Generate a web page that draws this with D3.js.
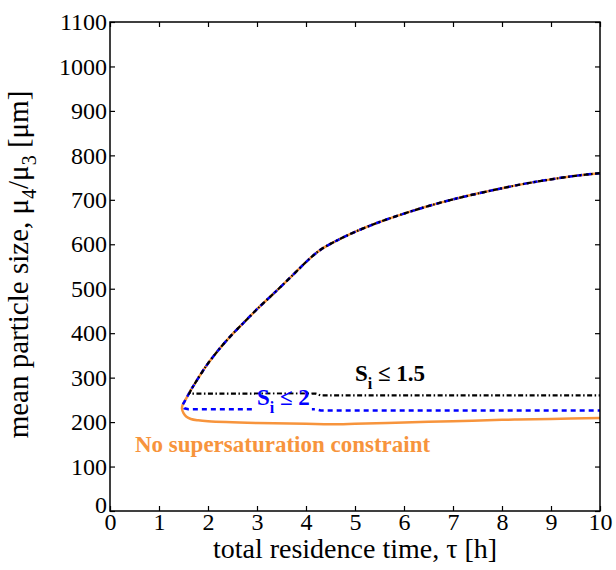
<!DOCTYPE html>
<html>
<head>
<meta charset="utf-8">
<script src="https://cdn.jsdelivr.net/npm/d3@7"></script>
<style>
  body { margin: 0; background: #fff; }
  text { font-family: "Liberation Serif", "Times New Roman", serif; }
</style>
</head>
<body>
<div id="chart"></div>
<script>
var margin = { top: 22, left: 110, bottom: 59, right: 16 };
var width = 616 - margin.left - margin.right;
var height = 570 - margin.top - margin.bottom;

// upper branch (shared by all three cases)
var tauUpper = [1.48, 1.55, 1.65, 1.75, 1.9, 2, 2.25, 2.5, 2.75, 3, 3.25, 3.5, 3.75, 4, 4.15, 4.3, 4.5, 4.75, 5, 5.5, 6, 6.5, 7, 7.5, 8, 8.5, 9, 9.5, 10];
var sizeUpper = [238, 252, 272, 290, 316, 332, 367, 398, 426, 454, 480, 506, 533, 560, 575, 588, 601, 615, 628, 650, 669, 686, 701, 714, 726, 737, 746, 754, 760];

// lower branches
var tauNoCon = [1.47, 1.5, 1.56, 1.65, 1.8, 2, 3, 4, 4.5, 5, 6, 7, 8, 9, 10];
var sizeNoCon = [230, 220, 212, 207, 204, 202, 198, 196, 195, 196, 199, 202, 205, 207, 209];

var tauS2 = [1.52, 1.6, 4.2, 4.3, 10];
var sizeS2 = [231, 229, 229, 226, 226];

var tauS15 = [1.62, 4.2, 4.3, 10];
var sizeS15 = [264, 264, 260, 260];

var xTicks = [0, 1, 2, 3, 4, 5, 6, 7, 8, 9, 10];
var yTicks = [0, 100, 200, 300, 400, 500, 600, 700, 800, 900, 1000, 1100];

var svg = d3.select("#chart").append("svg")
    .attr("width", 616)
    .attr("height", 570)
    .append("g")
    .attr("transform", "translate(" + margin.left + "," + margin.top + ")");

var x = d3.scaleLinear().domain([0, 10]).range([0, width]);
var y = d3.scaleLinear().domain([0, 1100]).range([height, 0]);

function pts(t, s) {
    return t.map(function (d, i) { return [d, s[i]]; });
}
// upper branch from tau=10 back down to the turning point
var upper = pts(tauUpper, sizeUpper).reverse();

var line = d3.line()
    .x(function (d) { return x(d[0]); })
    .y(function (d) { return y(d[1]); })
    .curve(d3.curveCatmullRom.alpha(0.5));

var lineLin = d3.line()
    .x(function (d) { return x(d[0]); })
    .y(function (d) { return y(d[1]); });

// no constraint (orange)
svg.append("path")
    .attr("d", line(upper.concat(pts(tauNoCon, sizeNoCon))))
    .attr("fill", "none")
    .attr("stroke", "#f7943c")
    .attr("stroke-width", 2.5);

// S_i <= 2 (blue dashed)
svg.append("path")
    .attr("d", line(upper) + lineLin([upper[upper.length - 1]].concat(pts(tauS2, sizeS2))).replace("M", "L"))
    .attr("fill", "none")
    .attr("stroke", "#0000ff")
    .attr("stroke-width", 2.5)
    .attr("stroke-dasharray", "5,4");

// S_i <= 1.5 (black dash-dot), leaves the upper branch near its bottom
var upperB = upper.filter(function (d) { return d[0] >= 1.65; });
svg.append("path")
    .attr("d", line(upperB) + lineLin([upperB[upperB.length - 1]].concat(pts(tauS15, sizeS15))).replace("M", "L"))
    .attr("fill", "none")
    .attr("stroke", "#000")
    .attr("stroke-width", 2.2)
    .attr("stroke-dasharray", "5,2.5,1.5,2.5");

// labels
var lab2 = svg.append("text")
    .attr("x", x(3.0))
    .attr("y", y(238))
    .attr("fill", "#0000ff")
    .style("font-size", "23px")
    .style("font-weight", "bold");
lab2.append("tspan").text("S");
lab2.append("tspan").attr("dy", 8).style("font-size", "16px").text("i");
lab2.append("tspan").attr("dy", -8).text(" \u2264 2");
var bb = lab2.node().getBBox();
svg.insert("rect", "text")
    .attr("x", bb.x - 2).attr("y", y(262)).attr("width", bb.width + 4).attr("height", y(222) - y(262))
    .attr("fill", "#fff");

var lab15 = svg.append("text")
    .attr("x", x(5.0))
    .attr("y", y(292))
    .attr("fill", "#000")
    .style("font-size", "23px")
    .style("font-weight", "bold");
lab15.append("tspan").text("S");
lab15.append("tspan").attr("dy", 8).style("font-size", "16px").text("i");
lab15.append("tspan").attr("dy", -8).text(" \u2264 1.5");

svg.append("text")
    .attr("x", x(0.51))
    .attr("y", y(133))
    .attr("fill", "#f7943c")
    .style("font-size", "23px")
    .style("font-weight", "bold")
    .text("No supersaturation constraint");

// axes (box with inward ticks)
var xAxis = d3.axisBottom(x).tickValues(xTicks).tickSize(-5).tickPadding(2).tickFormat(d3.format("d"));
var yAxis = d3.axisLeft(y).tickValues(yTicks).tickSize(-5).tickPadding(3).tickFormat(d3.format("d"));

svg.append("g")
    .attr("class", "x_axis")
    .attr("transform", "translate(0," + height + ")")
    .call(xAxis);
svg.append("g")
    .attr("class", "y_axis")
    .call(yAxis);
svg.append("g")
    .call(d3.axisTop(x).tickValues(xTicks).tickSize(-5).tickFormat(""));
svg.append("g")
    .attr("transform", "translate(" + width + ",0)")
    .call(d3.axisRight(y).tickValues(yTicks).tickSize(-5).tickFormat(""));

svg.selectAll(".domain").remove();
svg.append("rect")
    .attr("width", width).attr("height", height)
    .attr("fill", "none").attr("stroke", "#000").attr("stroke-width", 1.5);

svg.selectAll(".tick line").attr("stroke", "#000").attr("stroke-width", 1.2);
svg.selectAll(".tick text")
    .attr("fill", "#000")
    .style("font-size", "24px")
    .style("font-family", "'Liberation Serif', serif");
svg.select(".y_axis").selectAll(".tick text").attr("dy", "0.32em");
svg.select(".y_axis").selectAll(".tick").filter(function (d) { return d === 0; })
    .select("text").attr("dy", "0.05em");

// axis titles
svg.append("text")
    .attr("x", width / 2)
    .attr("y", height + 47)
    .attr("text-anchor", "middle")
    .style("font-size", "28px")
    .text("total residence time, \u03c4 [h]");

var yl = svg.append("text")
    .attr("transform", "translate(" + (-82) + "," + (height / 2 - 2) + ") rotate(-90)")
    .attr("text-anchor", "middle")
    .style("font-size", "29px");
yl.append("tspan").text("mean particle size, \u03bc");
yl.append("tspan").attr("dy", 8).style("font-size", "20px").text("4");
yl.append("tspan").attr("dy", -8).text("/\u03bc");
yl.append("tspan").attr("dy", 8).style("font-size", "20px").text("3");
yl.append("tspan").attr("dy", -8).text(" [\u03bcm]");
</script>
</body>
</html>
